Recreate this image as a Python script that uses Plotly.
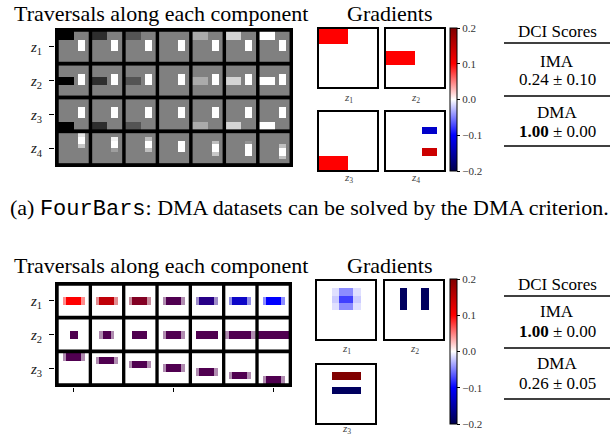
import numpy as np
import plotly.graph_objects as go

W, H = 612, 437
SERIF = "Liberation Serif, Times New Roman, Times, serif"
MONO = "Liberation Mono, Courier New, monospace"

# ---------------- FourBars traversals (8x8 grey images) ----------------
n_steps = 7
background_level = 0.5
bar_levels = [0.0, 0.18, 0.33, 0.5, 0.67, 0.83, 1.0]   # bar intensity while z1..z3 are traversed
hbar_rows = [[0, 1], [3, 4], [6, 7]]                    # rows of the bars driven by z1, z2, z3
hbar_cols = [0, 1, 2, 3]
vbar_cols = [5, 6]
vbar_base = [0.5, 0.5, 1.0, 1.0, 1.0, 0.5, 0.5, 0.5]
vbar_profiles = [                                       # vertical bar column while z4 is traversed
    [0.9, 1.0, 1.0, 0.78, 0.5, 0.5, 0.5, 0.5],
    [0.5, 0.95, 1.0, 1.0, 0.62, 0.5, 0.5, 0.5],
    [0.5, 0.75, 1.0, 1.0, 0.75, 0.5, 0.5, 0.5],
    [0.5, 0.5, 1.0, 1.0, 1.0, 0.5, 0.5, 0.5],
    [0.5, 0.5, 0.75, 1.0, 1.0, 0.78, 0.5, 0.5],
    [0.5, 0.5, 0.58, 1.0, 1.0, 1.0, 0.5, 0.5],
    [0.5, 0.5, 0.5, 0.75, 1.0, 1.0, 0.75, 0.5],
]
fourbars_labels = ["<i>z</i><sub>1</sub>", "<i>z</i><sub>2</sub>",
                   "<i>z</i><sub>3</sub>", "<i>z</i><sub>4</sub>"]

# ---------------- colour / width / position traversals ----------------
colour_steps = [(255, 0, 0), (192, 0, 8), (130, 0, 35), (80, 0, 80),
                (40, 0, 135), (12, 6, 200), (0, 0, 255)]
base_colour = (80, 0, 80)
width_half = [1, 1.5, 2, 2.5, 3, 3.5, 4]       # half width of the bar in pixels
base_half_width = 2.5
top_rows = [0, 1, 2, 3, 4, 5, 6]               # first row of the bar
base_top_row = 3
soft_alpha = 0.45
shape_labels = ["<i>z</i><sub>1</sub>", "<i>z</i><sub>2</sub>", "<i>z</i><sub>3</sub>"]

# ---------------- gradient maps (8x8) ----------------
grad_fb_z1 = [
    [0.1, 0.1, 0.1, 0.1, 0, 0, 0, 0],
    [0.1, 0.1, 0.1, 0.1, 0, 0, 0, 0],
    [0, 0, 0, 0, 0, 0, 0, 0],
    [0, 0, 0, 0, 0, 0, 0, 0],
    [0, 0, 0, 0, 0, 0, 0, 0],
    [0, 0, 0, 0, 0, 0, 0, 0],
    [0, 0, 0, 0, 0, 0, 0, 0],
    [0, 0, 0, 0, 0, 0, 0, 0],
]
grad_fb_z2 = [
    [0, 0, 0, 0, 0, 0, 0, 0],
    [0, 0, 0, 0, 0, 0, 0, 0],
    [0, 0, 0, 0, 0, 0, 0, 0],
    [0.1, 0.1, 0.1, 0.1, 0, 0, 0, 0],
    [0.1, 0.1, 0.1, 0.1, 0, 0, 0, 0],
    [0, 0, 0, 0, 0, 0, 0, 0],
    [0, 0, 0, 0, 0, 0, 0, 0],
    [0, 0, 0, 0, 0, 0, 0, 0],
]
grad_fb_z3 = [
    [0, 0, 0, 0, 0, 0, 0, 0],
    [0, 0, 0, 0, 0, 0, 0, 0],
    [0, 0, 0, 0, 0, 0, 0, 0],
    [0, 0, 0, 0, 0, 0, 0, 0],
    [0, 0, 0, 0, 0, 0, 0, 0],
    [0, 0, 0, 0, 0, 0, 0, 0],
    [0.1, 0.1, 0.1, 0.1, 0, 0, 0, 0],
    [0.1, 0.1, 0.1, 0.1, 0, 0, 0, 0],
]
grad_fb_z4 = [
    [0, 0, 0, 0, 0, 0, 0, 0],
    [0, 0, 0, 0, 0, 0, 0, 0],
    [0, 0, 0, 0, 0, -0.13, -0.13, 0],
    [0, 0, 0, 0, 0, 0, 0, 0],
    [0, 0, 0, 0, 0, 0, 0, 0],
    [0, 0, 0, 0, 0, 0.14, 0.14, 0],
    [0, 0, 0, 0, 0, 0, 0, 0],
    [0, 0, 0, 0, 0, 0, 0, 0],
]
grad_sh_z1 = [
    [0, 0, 0, 0, 0, 0, 0, 0],
    [0, 0, -0.012, -0.045, -0.045, -0.012, 0, 0],
    [0, 0, -0.02, -0.075, -0.075, -0.02, 0, 0],
    [0, 0, -0.012, -0.045, -0.045, -0.012, 0, 0],
    [0, 0, 0, 0, 0, 0, 0, 0],
    [0, 0, 0, 0, 0, 0, 0, 0],
    [0, 0, 0, 0, 0, 0, 0, 0],
    [0, 0, 0, 0, 0, 0, 0, 0],
]
grad_sh_z2 = [
    [0, 0, 0, 0, 0, 0, 0, 0],
    [0, 0, -0.19, 0, 0, -0.19, 0, 0],
    [0, 0, -0.19, 0, 0, -0.19, 0, 0],
    [0, 0, -0.19, 0, 0, -0.19, 0, 0],
    [0, 0, 0, 0, 0, 0, 0, 0],
    [0, 0, 0, 0, 0, 0, 0, 0],
    [0, 0, 0, 0, 0, 0, 0, 0],
    [0, 0, 0, 0, 0, 0, 0, 0],
]
grad_sh_z3 = [
    [0, 0, 0, 0, 0, 0, 0, 0],
    [0, 0, 0.2, 0.2, 0.2, 0.2, 0, 0],
    [0, 0, 0, 0, 0, 0, 0, 0],
    [0, 0, -0.19, -0.19, -0.19, -0.19, 0, 0],
    [0, 0, 0, 0, 0, 0, 0, 0],
    [0, 0, 0, 0, 0, 0, 0, 0],
    [0, 0, 0, 0, 0, 0, 0, 0],
    [0, 0, 0, 0, 0, 0, 0, 0],
]

cbar_ticks = [-0.2, -0.1, 0.0, 0.1, 0.2]

# ---------------- DCI score tables ----------------
scores_top = [("IMA", "0.24 ± 0.10"), ("DMA", "<b>1.00</b> ± 0.00")]
scores_bottom = [("IMA", "<b>1.00</b> ± 0.00"), ("DMA", "0.26 ± 0.05")]

# matplotlib "seismic"
seismic = [[0.0, "rgb(0,0,77)"], [0.25, "rgb(0,0,255)"], [0.5, "rgb(255,255,255)"],
           [0.75, "rgb(255,0,0)"], [1.0, "rgb(128,0,0)"]]


def xd(a, b):
    return [a / W, b / W]


def yd(top, bottom):
    return [1 - bottom / H, 1 - top / H]


def fourbars_image(row, step):
    img = np.full((8, 8), background_level)
    profile = vbar_base
    if row < 3:
        for r in hbar_rows[row]:
            img[r, hbar_cols] = bar_levels[step]
    else:
        profile = vbar_profiles[step]
    for c in vbar_cols:
        img[:, c] = profile
    g = np.round(img * 255).astype(np.uint8)
    return np.stack([g, g, g], axis=-1).tolist()


def shape_image(colour, half_width, top_row):
    core = int(half_width)
    alpha = np.zeros((8, 8))
    for r in (top_row, top_row + 1):
        alpha[r, 4 - core:4 + core] = 1.0
        if half_width != core:
            alpha[r, 4 - core - 1] = soft_alpha
            alpha[r, 4 + core] = soft_alpha
    a = alpha[..., None]
    img = 255 * (1 - a) + np.array(colour, dtype=float) * a
    return np.round(img).astype(np.uint8).tolist()


fig = go.Figure()

# traversal grids: 8-pixel cells separated by 1-unit black borders
for r in range(4):
    for s in range(n_steps):
        fig.add_trace(go.Image(z=fourbars_image(r, s), x0=1 + 9 * s + 0.5, y0=1 + 9 * r + 0.5,
                               dx=1, dy=1, xaxis="x", yaxis="y", hoverinfo="skip"))

for r in range(3):
    for s in range(n_steps):
        if r == 0:
            img = shape_image(colour_steps[s], base_half_width, base_top_row)
        elif r == 1:
            img = shape_image(base_colour, width_half[s], base_top_row)
        else:
            img = shape_image(base_colour, base_half_width, top_rows[s])
        fig.add_trace(go.Image(z=img, x0=1 + 9 * s + 0.5, y0=1 + 9 * r + 0.5,
                               dx=1, dy=1, xaxis="x2", yaxis="y2", hoverinfo="skip"))

# gradient panels
grad_panels = [
    (grad_fb_z1, 3, "coloraxis"), (grad_fb_z2, 4, "coloraxis"),
    (grad_fb_z3, 5, "coloraxis"), (grad_fb_z4, 6, "coloraxis"),
    (grad_sh_z1, 7, "coloraxis2"), (grad_sh_z2, 8, "coloraxis2"),
    (grad_sh_z3, 9, "coloraxis2"),
]
for z, k, cax in grad_panels:
    fig.add_trace(go.Heatmap(z=z, x0=0.5, dx=1, y0=0.5, dy=1, coloraxis=cax,
                             xaxis=f"x{k}", yaxis=f"y{k}", hoverinfo="skip"))

tick_font = dict(family=SERIF, size=15, color="#222")
layout = dict(
    width=W, height=H, margin=dict(l=0, r=0, t=0, b=0),
    paper_bgcolor="white", plot_bgcolor="white", showlegend=False,
    font=dict(family=SERIF),
    xaxis=dict(domain=xd(55, 293), range=[0, 64], showgrid=False, zeroline=False,
               showticklabels=False, ticks="", fixedrange=True),
    yaxis=dict(domain=yd(28, 167), range=[37, 0], showgrid=False, zeroline=False,
               scaleanchor=False, tickvals=[5, 14, 23, 32], ticktext=fourbars_labels,
               ticks="outside", ticklen=5, tickcolor="black", tickwidth=1,
               tickfont=tick_font, ticklabelstandoff=4),
    xaxis2=dict(domain=xd(55, 292), range=[0, 64], showgrid=False, zeroline=False,
                tickvals=[5, 32, 59], showticklabels=False, ticks="outside", ticklen=4,
                tickcolor="black", tickwidth=1),
    yaxis2=dict(domain=yd(282, 387), range=[28, 0], showgrid=False, zeroline=False,
                scaleanchor=False, tickvals=[5, 14, 23], ticktext=shape_labels,
                ticks="outside", ticklen=5, tickcolor="black", tickwidth=1,
                tickfont=tick_font, ticklabelstandoff=4),
)

boxes = {
    3: (xd(319, 377), yd(29, 87)), 4: (xd(386, 444), yd(29, 87)),
    5: (xd(319, 377), yd(112, 170)), 6: (xd(386, 444), yd(112, 170)),
    7: (xd(317, 375), yd(281, 339)), 8: (xd(385, 443), yd(281, 339)),
    9: (xd(317, 375), yd(365, 423)),
}
frame = dict(showgrid=False, zeroline=False, showticklabels=False, ticks="",
             showline=True, mirror=True, linecolor="black", linewidth=1.5)
for k, (dx_, dy_) in boxes.items():
    layout[f"xaxis{k}"] = dict(domain=dx_, range=[0, 8], anchor=f"y{k}", **frame)
    layout[f"yaxis{k}"] = dict(domain=dy_, range=[8, 0], anchor=f"x{k}", **frame)
layout["xaxis2"]["anchor"] = "y2"
layout["yaxis2"]["anchor"] = "x2"


def cbar(top, bottom):
    return dict(x=450 / W, xanchor="left", xpad=0, y=1 - bottom / H, yanchor="bottom",
                ypad=0, len=(bottom - top) / H, lenmode="fraction", thickness=7,
                outlinewidth=1, outlinecolor="black", tickvals=cbar_ticks,
                tickformat=".1f", ticks="outside", ticklen=3, tickcolor="black",
                tickfont=dict(family=SERIF, size=11, color="#333"))


layout["coloraxis"] = dict(colorscale=seismic, cmin=-0.2, cmax=0.2, colorbar=cbar(28, 171))
layout["coloraxis2"] = dict(colorscale=seismic, cmin=-0.2, cmax=0.2, colorbar=cbar(279, 424))
fig.update_layout(**layout)

# black backing behind the traversal cells
fig.add_shape(type="rect", xref="x", yref="y", x0=0, x1=64, y0=0, y1=37,
              fillcolor="black", line_width=0, layer="below")
fig.add_shape(type="rect", xref="x2", yref="y2", x0=0, x1=64, y0=0, y1=28,
              fillcolor="black", line_width=0, layer="below")


def text(x, y, s, size, family=SERIF, anchor="center", color="black"):
    fig.add_annotation(x=x / W, y=1 - y / H, xref="paper", yref="paper", text=s,
                       showarrow=False, xanchor=anchor, yanchor="middle",
                       font=dict(family=family, size=size, color=color))


# headings
for y0 in (13, 265):
    text(12, y0, "Traversals along each component", 22, anchor="left")
    text(390, y0, "Gradients", 22)

# panel labels under the gradient maps
for lbl, x, y in [("1", 348, 98), ("2", 415, 98), ("3", 348, 178), ("4", 415, 178),
                  ("1", 346, 349), ("2", 414, 349), ("3", 346, 429)]:
    text(x, y, f"<i>z</i><sub>{lbl}</sub>", 11, color="#444")

# DCI tables
def table(rows, y_head, y_lines, y_text):
    text(557, y_head, "DCI Scores", 17)
    for yl in y_lines:
        fig.add_shape(type="line", xref="paper", yref="paper", x0=504 / W, x1=610 / W,
                      y0=1 - yl / H, y1=1 - yl / H, line=dict(color="black", width=1.3))
    for (name, val), (yn, yv) in zip(rows, y_text):
        text(557, yn, name, 17)
        text(557, yv, val, 17)


table(scores_top, 32, [43, 96, 146], [(61, 80), (112, 131)])
table(scores_bottom, 284, [296, 348, 399], [(311, 331), (363, 383)])

# caption
text(8, 208, "(a) <span style=\"font-family:'Courier New', 'Liberation Mono', monospace\">FourBars</span>: "
             "DMA datasets can be solved by the DMA criterion.", 22, anchor="left")

fig.write_html("out.html")
